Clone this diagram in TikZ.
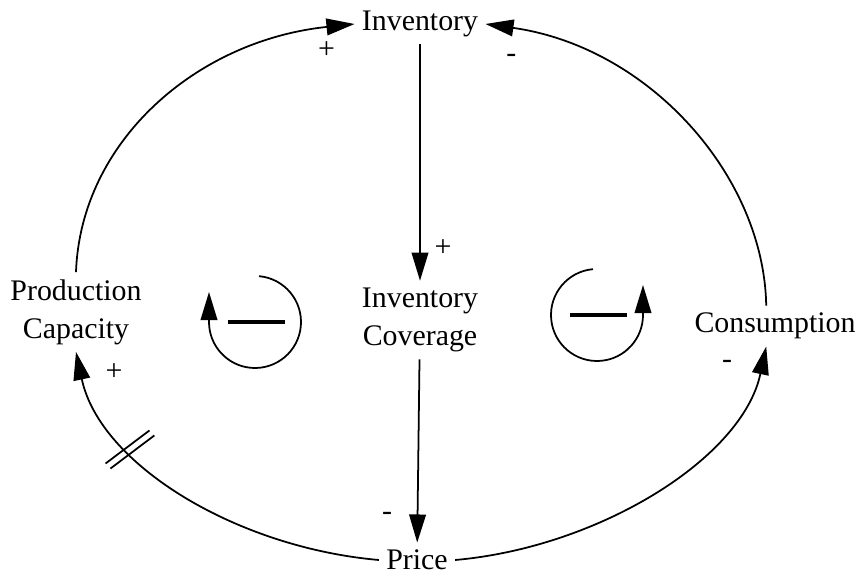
\documentclass[tikz,border=0pt]{standalone}
\usepackage{fontspec}
\setmainfont{Liberation Serif}
\usetikzlibrary{arrows.meta,calc}

\begin{document}
\begin{tikzpicture}[
    var/.style={font=\fontsize{17}{21.5}\selectfont, align=center, inner sep=4pt},
    sign/.style={font=\fontsize{17}{20}\selectfont, inner sep=0pt},
    link/.style={-{Triangle[length=16pt, width=9.5pt]}, line width=1pt},
    looparrow/.style={-{Triangle[length=16pt, width=9.5pt]}, line width=1pt},
    bar/.style={line width=2.8pt},
    delay/.style={line width=1pt}
]
\useasboundingbox (0,0) rectangle (17.2,11.54);

\node[var] (inv) at (8.4,11.06) {Inventory};
\node[var] (cov) at (8.4,5.14) {Inventory\\Coverage};
\node[var] (pc) at (1.52,5.3) {Production\\Capacity};
\node[var] (cons) at (15.5,5.02) {Consumption};
\node[var] (price) at (8.34,0.34) {Price};

% outer ring
\draw[link] (pc.north) to[out=88, in=186, out distance=2.6cm, in distance=3.2cm]
    node[sign, at end, xshift=-0.56cm, yshift=-0.52cm] {+} (inv.west);
\draw[link] ([xshift=-5pt]cons.north) to[out=91, in=-8, out distance=2.6cm, in distance=3.3cm]
    node[sign, at end, xshift=0.52cm, yshift=-0.68cm] {-} (inv.east);
\draw[link] (price.west) to[out=175, in=-78, out distance=2.87cm, in distance=2.3cm]
    coordinate[pos=0.68] (dly)
    node[sign, at end, xshift=0.76cm, yshift=-0.4cm] {+} (pc.south);
\draw[link] (price.east) to[out=5, in=-102, out distance=2.87cm, in distance=2.3cm]
    node[sign, at end, xshift=-0.78cm, yshift=-0.36cm] {-} ([xshift=-5pt]cons.south);

% middle chain
\draw[link] (inv) -- node[sign, at end, xshift=0.46cm, yshift=0.66cm] {+} (cov);
\draw[link] (cov) -- node[sign, at end, xshift=-0.6cm, yshift=0.52cm] {-} (price);

% delay mark
\draw[delay] ([shift={(134:0.07)}]dly) ++(217:0.55) -- ++(37:1.1);
\draw[delay] ([shift={(314:0.07)}]dly) ++(217:0.55) -- ++(37:1.1);

% loop markers
\coordinate (loopL) at (5.1,5.1);
\coordinate (loopR) at (11.94,5.24);
\draw[looparrow] ([shift={(85:0.92)}]loopL) arc[start angle=85, end angle=-180, radius=0.92] -- ++(0,0.6);
\draw[bar] ($(loopL)+(-0.55,0)$) -- ($(loopL)+(0.6,0)$);
\draw[looparrow] ([shift={(95:0.92)}]loopR) arc[start angle=95, end angle=360, radius=0.92] -- ++(0,0.6);
\draw[bar] ($(loopR)+(-0.55,0)$) -- ($(loopR)+(0.6,0)$);
\end{tikzpicture}
\end{document}
